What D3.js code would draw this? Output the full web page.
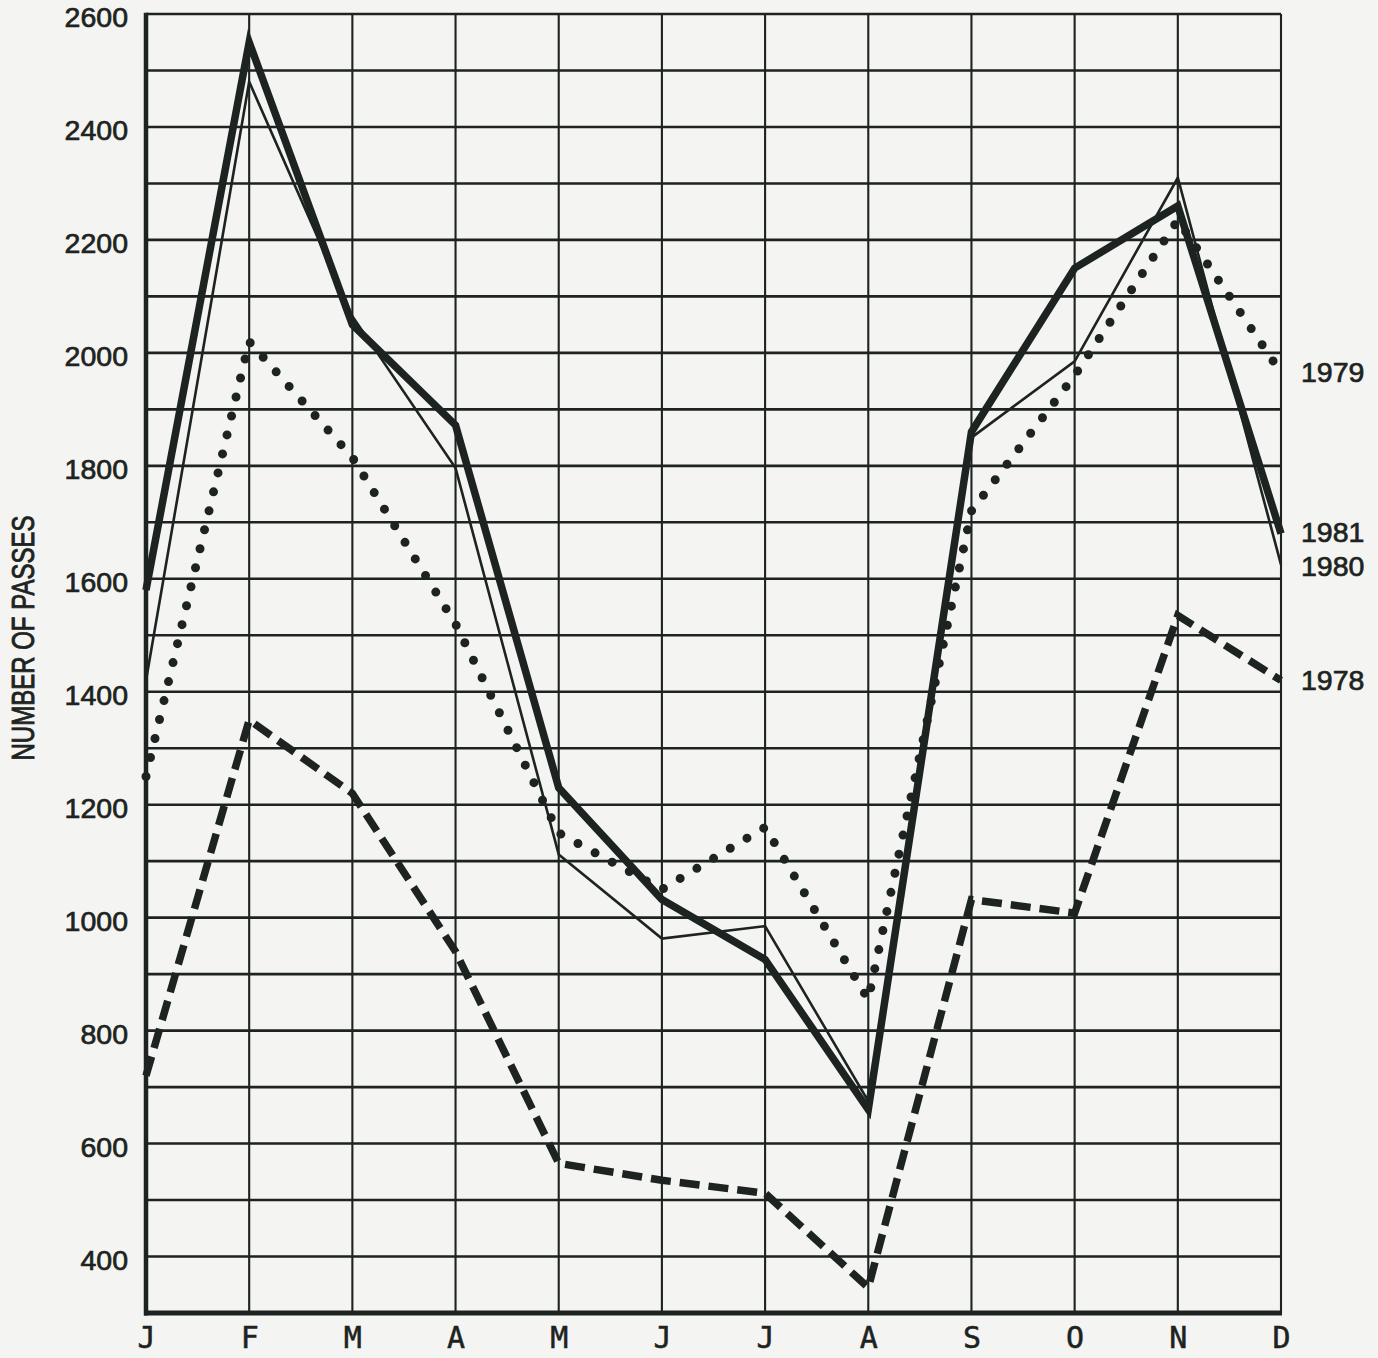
<!DOCTYPE html>
<html>
<head>
<meta charset="utf-8">
<script src="https://cdn.jsdelivr.net/npm/d3@7"></script>
<style>
  html, body { margin: 0; padding: 0; background: #f4f4f2; }
  svg { display: block; }
</style>
</head>
<body>
<svg id="chart" width="1378" height="1358"></svg>
<script>
// ---- data ----
const months = ["J", "F", "M", "A", "M", "J", "J", "A", "S", "O", "N", "D"];
const yTicks = [400, 600, 800, 1000, 1200, 1400, 1600, 1800, 2000, 2200, 2400, 2600];
const yTitle = "NUMBER OF PASSES";
const series1978 = [720, 1350, 1220, 940, 565, 535, 512, 345, 1032, 1008, 1535, 1420];
const series1979 = [1250, 2020, 1815, 1520, 1150, 1050, 1160, 855, 1720, 1960, 2235, 1965];
const series1980 = [1420, 2480, 2065, 1796, 1112, 963, 985, 675, 1850, 1985, 2310, 1625];
const series1981 = [1580, 2550, 2050, 1872, 1230, 1032, 926, 660, 1860, 2150, 2260, 1680];
const seriesNames = ["1978", "1979", "1980", "1981"];

(function () {
// ---- setup ----
const ink = "#1d2320";
const svg = d3.select("#chart");
const pLeft = 146, pRight = 1281, pTop = 14, pBottom = 1313;
const numFont = "'Liberation Sans', Arial, sans-serif";

const x = d3.scaleLinear().domain([0, months.length - 1]).range([pLeft, pRight]);
const y = d3.scaleLinear().domain([300, 2600]).range([pBottom, pTop]);

// grid: horizontal every 100
const gridVals = d3.range(400, 2601, 100);
svg.append("g").selectAll("line").data(gridVals).join("line")
  .attr("x1", pLeft).attr("x2", pRight)
  .attr("y1", d => y(d)).attr("y2", d => y(d))
  .attr("stroke", ink).attr("stroke-width", 2.6);

// grid: vertical at each month
svg.append("g").selectAll("line").data(d3.range(1, months.length)).join("line")
  .attr("x1", d => x(d)).attr("x2", d => x(d))
  .attr("y1", pTop).attr("y2", pBottom)
  .attr("stroke", ink).attr("stroke-width", 2.1);

// axes (thicker)
const yAxis = svg.append("g").attr("transform", `translate(${pLeft},0)`)
  .call(d3.axisLeft(y).tickValues(yTicks).tickSize(0).tickPadding(18).tickFormat(d3.format("d")));
yAxis.select(".domain").attr("stroke", ink).attr("stroke-width", 4.5)
  .attr("d", `M0,${pTop - 1.3}V${pBottom + 2.5}`);
yAxis.selectAll("text")
  .attr("fill", ink).attr("stroke", ink).attr("stroke-width", 0.7)
  .attr("font-family", numFont)
  .attr("font-size", 28.5).attr("dy", "0.44em");

const xAxis = svg.append("g").attr("transform", `translate(0,${pBottom})`)
  .call(d3.axisBottom(x).tickValues(d3.range(months.length)).tickSize(0).tickPadding(14)
    .tickFormat(i => months[i]));
xAxis.select(".domain").attr("stroke", ink).attr("stroke-width", 5)
  .attr("d", `M${pLeft - 2},0H${pRight + 1}`);
xAxis.selectAll("text")
  .attr("fill", ink).attr("stroke", ink).attr("stroke-width", 0.5)
  .attr("font-family", "'DejaVu Sans Mono', monospace")
  .attr("font-size", 30).attr("dy", "0.71em");

// y title
svg.append("text")
  .attr("transform", `translate(34,638) rotate(-90)`)
  .attr("text-anchor", "middle")
  .attr("fill", ink).attr("stroke", ink).attr("stroke-width", 0.9)
  .attr("font-family", numFont)
  .attr("font-size", 31).attr("textLength", 245).attr("lengthAdjust", "spacingAndGlyphs")
  .text(yTitle);

// ---- lines ----
const line = d3.line().x((d, i) => x(i)).y(d => y(d));

// 1978 dashed
svg.append("path").datum(series1978)
  .attr("d", line).attr("fill", "none").attr("stroke", ink)
  .attr("stroke-width", 7.5).attr("stroke-dasharray", "20 9")
  .attr("stroke-linejoin", "miter");

// 1979 dotted
svg.append("path").datum(series1979)
  .attr("d", line).attr("fill", "none").attr("stroke", ink)
  .attr("stroke-width", 9).attr("stroke-dasharray", "0 19.5")
  .attr("stroke-linecap", "round");

// 1980 thin solid
svg.append("path").datum(series1980)
  .attr("d", line).attr("fill", "none").attr("stroke", ink)
  .attr("stroke-width", 2.6).attr("stroke-linejoin", "miter");

// 1981 thick solid
svg.append("path").datum(series1981)
  .attr("d", line).attr("fill", "none").attr("stroke", ink)
  .attr("stroke-width", 7.5).attr("stroke-linejoin", "miter").attr("stroke-miterlimit", 10);

// ---- end labels ----
const allSeries = [series1978, series1979, series1980, series1981];
const labels = seriesNames.map((name, k) => ({ name, ty: y(allSeries[k][months.length - 1]) }));
labels.sort((a, b) => a.ty - b.ty);
for (let iter = 0; iter < 10; iter++) {
  for (let i = 1; i < labels.length; i++) {
    const gap = labels[i].ty - labels[i - 1].ty;
    if (gap < 34) {
      const push = (34 - gap) / 2;
      labels[i].ty += push; labels[i - 1].ty -= push;
    }
  }
}
svg.append("g").selectAll("text").data(labels).join("text")
  .attr("x", pRight + 20).attr("y", d => d.ty - 3).attr("dy", "0.44em")
  .attr("fill", ink).attr("stroke", ink).attr("stroke-width", 0.7)
  .attr("font-family", numFont)
  .attr("font-size", 28.5)
  .text(d => d.name);
})();
</script>
</body>
</html>
